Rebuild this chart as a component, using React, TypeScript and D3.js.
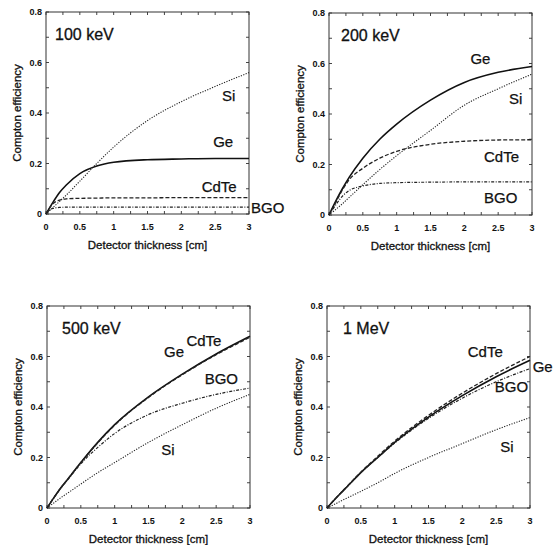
import * as d3 from "d3"

// detector thickness samples (cm)
const thickness = [0, 0.1, 0.2, 0.3, 0.5, 0.75, 1, 1.5, 2, 2.5, 3]

const xTickLabels = ["0", "0.5", "1", "1.5", "2", "2.5", "3"]
const yTickLabels = ["0", "0.2", "0.4", "0.6", "0.8"]

// 100 keV
const si100 = [0, 0.025, 0.05, 0.075, 0.13, 0.2, 0.265, 0.37, 0.445, 0.505, 0.56]
const ge100 = [0, 0.045, 0.085, 0.115, 0.16, 0.19, 0.205, 0.215, 0.218, 0.22, 0.22]
const cdte100 = [0, 0.04, 0.055, 0.06, 0.062, 0.063, 0.064, 0.064, 0.065, 0.065, 0.065]
const bgo100 = [0, 0.022, 0.026, 0.027, 0.027, 0.027, 0.027, 0.027, 0.027, 0.027, 0.027]

// 200 keV
const si200 = [0, 0.022, 0.045, 0.07, 0.12, 0.18, 0.235, 0.335, 0.435, 0.5, 0.558]
const ge200 = [0, 0.055, 0.105, 0.15, 0.225, 0.3, 0.36, 0.455, 0.525, 0.565, 0.588]
const cdte200 = [0, 0.05, 0.1, 0.14, 0.185, 0.225, 0.252, 0.28, 0.292, 0.297, 0.298]
const bgo200 = [0, 0.04, 0.075, 0.097, 0.115, 0.125, 0.128, 0.13, 0.131, 0.131, 0.131]

// 500 keV
const si500 = [0, 0.02, 0.04, 0.058, 0.095, 0.14, 0.18, 0.26, 0.33, 0.395, 0.45]
const ge500 = [0, 0.04, 0.078, 0.112, 0.18, 0.26, 0.33, 0.44, 0.53, 0.61, 0.68]
const cdte500 = [0, 0.04, 0.078, 0.112, 0.18, 0.258, 0.328, 0.438, 0.528, 0.607, 0.676]
const bgo500 = [0, 0.04, 0.078, 0.11, 0.175, 0.24, 0.295, 0.37, 0.415, 0.45, 0.475]

// 1 MeV
const si1000 = [0, 0.013, 0.027, 0.04, 0.066, 0.1, 0.137, 0.2, 0.255, 0.31, 0.358]
const ge1000 = [0, 0.03, 0.058, 0.085, 0.14, 0.2, 0.26, 0.36, 0.445, 0.52, 0.585]
const cdte1000 = [0, 0.03, 0.059, 0.087, 0.142, 0.205, 0.265, 0.367, 0.455, 0.532, 0.6]
const bgo1000 = [0, 0.03, 0.058, 0.085, 0.14, 0.2, 0.257, 0.355, 0.435, 0.5, 0.552]

const styles: Record<string, { dash: string; width: number; color: string }> = {
  Ge: { dash: "none", width: 1.6, color: "#111" },
  Si: { dash: "1.2,1.4", width: 1.1, color: "#222" },
  CdTe: { dash: "4,2", width: 1.3, color: "#222" },
  BGO: { dash: "3,1.5,1,1.5", width: 1.2, color: "#222" },
}

const panels = [
  {
    title: "100 keV", left: 46, top: 12, titleDx: 9,
    series: [["Si", si100], ["Ge", ge100], ["CdTe", cdte100], ["BGO", bgo100]],
    labels: [["Si", 2.6, 0.447], ["Ge", 2.47, 0.265], ["CdTe", 2.3, 0.088], ["BGO", 3.03, 0.004]],
  },
  {
    title: "200 keV", left: 329, top: 13, titleDx: 12,
    series: [["Si", si200], ["Ge", ge200], ["CdTe", cdte200], ["BGO", bgo200]],
    labels: [["Ge", 2.09, 0.6], ["Si", 2.66, 0.44], ["CdTe", 2.29, 0.21], ["BGO", 2.29, 0.046]],
  },
  {
    title: "500 keV", left: 47, top: 306, titleDx: 15,
    series: [["Si", si500], ["Ge", ge500], ["CdTe", cdte500], ["BGO", bgo500]],
    labels: [["Ge", 1.73, 0.6], ["CdTe", 2.06, 0.64], ["BGO", 2.33, 0.49], ["Si", 1.69, 0.21]],
  },
  {
    title: "1 MeV", left: 327, top: 306, titleDx: 16,
    series: [["Si", si1000], ["Ge", ge1000], ["CdTe", cdte1000], ["BGO", bgo1000]],
    labels: [["CdTe", 2.08, 0.6], ["Ge", 3.04, 0.54], ["BGO", 2.48, 0.46], ["Si", 2.56, 0.22]],
  },
] as const

const W = 203
const H = 202
const font = "'Liberation Sans', Arial, sans-serif"

function Panel({ p }: { p: (typeof panels)[number] }) {
  const x = d3.scaleLinear().domain([0, 3]).range([0, W])
  const y = d3.scaleLinear().domain([0, 0.8]).range([H, 0])
  const line = d3
    .line<number>()
    .x((_, i) => x(thickness[i]))
    .y((d) => y(d))
    .curve(d3.curveMonotoneX)

  const xMinor = d3.range(0, 3.001, 0.25)
  const yMinor = d3.range(0, 0.801, 0.1)

  return (
    <g transform={`translate(${p.left},${p.top})`} fontFamily={font}>
      {/* ticks on all four sides */}
      {xMinor.map((t) => (
        <g key={"x" + t} stroke="#444" strokeWidth={1}>
          <line x1={x(t)} x2={x(t)} y1={H} y2={H - 3} />
          <line x1={x(t)} x2={x(t)} y1={0} y2={3} />
        </g>
      ))}
      {yMinor.map((t) => (
        <g key={"y" + t} stroke="#444" strokeWidth={1}>
          <line x1={0} x2={3} y1={y(t)} y2={y(t)} />
          <line x1={W} x2={W - 3} y1={y(t)} y2={y(t)} />
        </g>
      ))}
      <rect x={0} y={0} width={W} height={H} fill="none" stroke="#333" strokeWidth={1} />

      {xTickLabels.map((l) => (
        <text key={l} x={x(+l)} y={H + 16} textAnchor="middle" fontSize={9} fontWeight="bold" fill="#111">
          {l}
        </text>
      ))}
      {yTickLabels.map((l) => (
        <text key={l} x={-4} y={y(+l)} dy="0.35em" textAnchor="end" fontSize={9} fontWeight="bold" fill="#111">
          {l}
        </text>
      ))}
      <text x={W / 2} y={H + 35} textAnchor="middle" fontSize={11.5} fill="#111" stroke="#111" strokeWidth={0.3}>
        Detector thickness [cm]
      </text>
      <text
        transform={`translate(-25,${H / 2}) rotate(-90)`}
        textAnchor="middle"
        fontSize={11.5}
        fill="#111"
        stroke="#111"
        strokeWidth={0.3}
      >
        Compton efficiency
      </text>

      {p.series.map(([name, vals]) => {
        const s = styles[name]
        return (
          <path
            key={name}
            d={line(vals as number[]) || ""}
            fill="none"
            stroke={s.color}
            strokeWidth={s.width}
            strokeDasharray={s.dash}
          />
        )
      })}

      <text x={p.titleDx} y={28} fontSize={16} fill="#111" stroke="#111" strokeWidth={0.3}>
        {p.title}
      </text>
      {p.labels.map(([t, lx, ly]) => (
        <text key={t} x={x(lx)} y={y(ly)} fontSize={15} fill="#111" stroke="#111" strokeWidth={0.25}>
          {t}
        </text>
      ))}
    </g>
  )
}

export default function App() {
  return (
    <svg
      width={558}
      height={545}
      viewBox="0 0 558 545"
      style={{ position: "absolute", left: 0, top: 0, background: "#fff" }}
    >
      <rect width={558} height={545} fill="#fff" />
      {panels.map((p) => (
        <Panel key={p.title} p={p} />
      ))}
    </svg>
  )
}
